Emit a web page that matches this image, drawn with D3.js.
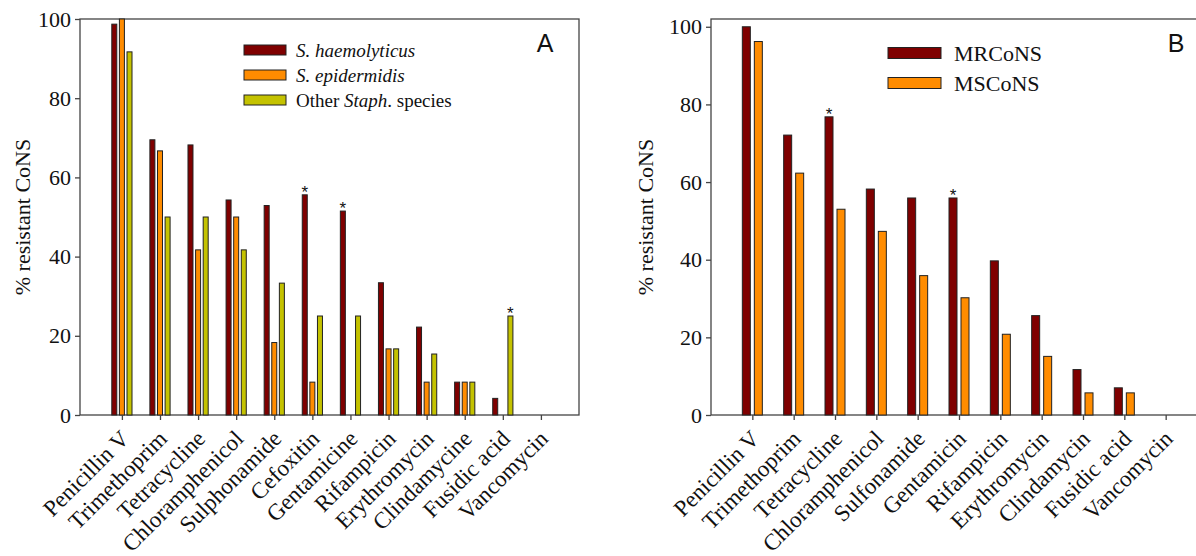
<!DOCTYPE html>
<html>
<head>
<meta charset="utf-8">
<script src="https://cdn.jsdelivr.net/npm/d3@7"></script>
<style>
  body { margin: 0; background: #fff; }
  svg { display: block; }
  svg text { font-family: "Liberation Serif", "Times New Roman", serif; fill: #111; }
</style>
</head>
<body>
<div id="chart"></div>
<script>
// panel A: species
const drugsA = ["Penicillin V", "Trimethoprim", "Tetracycline", "Chloramphenicol", "Sulphonamide",
  "Cefoxitin", "Gentamicine", "Rifampicin", "Erythromycin", "Clindamycine", "Fusidic acid", "Vancomycin"]
const haemolyticus = [98.7, 69.5, 68.2, 54.3, 52.9, 55.6, 51.5, 33.4, 22.2, 8.3, 4.2, 0]
const epidermidis = [100, 66.7, 41.7, 50, 18.3, 8.3, 0, 16.7, 8.3, 8.3, 0, 0]
const otherStaph = [91.7, 50, 50, 41.7, 33.3, 25, 25, 16.7, 15.4, 8.3, 25, 0]
const starsA = [[0, 5], [0, 6], [2, 10]]  // [series, category]

// panel B: methicillin resistance
const drugsB = ["Penicillin V", "Trimethoprim", "Tetracycline", "Chloramphenicol", "Sulfonamide",
  "Gentamicin", "Rifampicin", "Erythromycin", "Clindamycin", "Fusidic acid", "Vancomycin"]
const mrcons = [100, 72.1, 76.8, 58.2, 55.9, 55.9, 39.7, 25.6, 11.7, 7.0, 0]
const mscons = [96.2, 62.3, 53.0, 47.3, 35.9, 30.2, 20.8, 15.1, 5.7, 5.7, 0]
const starsB = [[0, 2], [0, 5]]

const yTicks = [0, 20, 40, 60, 80, 100]
const colors = ["#7f0000", "#ff8c00", "#c4c200"]

const serif = "'Liberation Serif', 'Times New Roman', serif"
const sans = "'Liberation Sans', Arial, sans-serif"
const width = 1196, height = 556

const svg = d3.select("#chart").append("svg")
  .attr("width", width)
  .attr("height", height)
  .attr("font-family", serif)

function drawPanel(opts) {
  const { cats, series, names, stars, left, right, top, bottom, xDomain, yMax, barW, barStep,
    letter, letterX, legend, yLabelX } = opts

  const x = d3.scaleLinear().domain(xDomain).range([left, right])
  const y = d3.scaleLinear().domain([0, yMax]).range([bottom, top])

  const g = svg.append("g")

  // frame
  g.append("rect")
    .attr("x", left).attr("y", top)
    .attr("width", right - left).attr("height", bottom - top)
    .attr("fill", "none")
    .attr("stroke", "#444")
    .attr("stroke-width", 1.3)

  // bars
  const n = series.length
  series.forEach((vals, s) => {
    const off = (s - (n - 1) / 2) * barStep
    g.selectAll(null)
      .data(vals.map((v, i) => ({ v, i })).filter(d => d.v > 0))
      .enter()
      .append("rect")
        .attr("x", d => x(d.i) + off - barW / 2)
        .attr("y", d => y(d.v))
        .attr("width", barW)
        .attr("height", d => y(0) - y(d.v))
        .attr("fill", colors[s])
        .attr("stroke", "#222")
        .attr("stroke-width", 1)
  })

  // significance stars
  g.selectAll(null)
    .data(stars)
    .enter()
    .append("text")
      .attr("x", d => x(d[1]) + (d[0] - (n - 1) / 2) * barStep)
      .attr("y", d => y(series[d[0]][d[1]]) + 3)
      .attr("text-anchor", "middle")
      .style("font-family", sans)
      .style("font-size", "17px")
      .text("*")

  // y axis
  const yAxis = g.append("g")
    .attr("transform", `translate(${left},0)`)
    .call(d3.axisLeft(y).tickValues(yTicks).tickSize(5).tickPadding(4))
  yAxis.attr("font-family", serif).attr("font-size", 22)
  yAxis.select(".domain").remove()
  yAxis.selectAll("line").attr("stroke", "#444").attr("stroke-width", 1.3)
  yAxis.selectAll("text")
    .style("font-family", serif)
    .style("font-size", "22px")
    .attr("fill", "#111")

  // x axis
  const xAxis = g.append("g")
    .attr("transform", `translate(0,${bottom})`)
    .call(d3.axisBottom(x).tickValues(d3.range(cats.length)).tickFormat(i => cats[i]).tickSize(5))
  xAxis.attr("font-family", serif).attr("font-size", 23)
  xAxis.select(".domain").remove()
  xAxis.selectAll("line").attr("stroke", "#444").attr("stroke-width", 1.3)
  xAxis.selectAll("text")
    .attr("x", 0).attr("y", 0).attr("dy", 0)
    .attr("transform", "translate(8,25) rotate(-45)")
    .attr("text-anchor", "end")
    .style("font-family", serif)
    .style("font-size", "23px")
    .attr("fill", "#111")

  // y label
  g.append("text")
    .attr("transform", `translate(${yLabelX},${(top + bottom) / 2}) rotate(-90)`)
    .attr("text-anchor", "middle")
    .style("font-family", serif)
    .style("font-size", "22px")
    .text("% resistant CoNS")

  // panel letter
  g.append("text")
    .attr("x", letterX).attr("y", 52)
    .attr("text-anchor", "middle")
    .style("font-family", sans)
    .style("font-size", "25px")
    .text(letter)

  // legend
  names.forEach((nm, s) => {
    const ly = legend.y + s * legend.step
    g.append("rect")
      .attr("x", legend.x).attr("y", ly - legend.h / 2)
      .attr("width", legend.w).attr("height", legend.h)
      .attr("fill", colors[s])
      .attr("stroke", "#222")
      .attr("stroke-width", 1)
    const t = g.append("text")
      .attr("x", legend.x + legend.w + legend.gap)
      .attr("y", ly)
      .attr("dy", "0.35em")
      .style("font-family", serif)
      .style("font-size", legend.font + "px")
    nm.forEach(part => {
      t.append("tspan")
        .style("font-style", part[1] ? "italic" : "normal")
        .text(part[0])
    })
  })
}

drawPanel({
  cats: drugsA,
  series: [haemolyticus, epidermidis, otherStaph],
  names: [[["S. haemolyticus", true]], [["S. epidermidis", true]],
    [["Other ", false], ["Staph", true], [". species", false]]],
  stars: starsA,
  left: 80, right: 579, top: 19, bottom: 415,
  xDomain: [-1.1, 12], yMax: 100,
  barW: 5, barStep: 7.6,
  letter: "A", letterX: 545,
  legend: { x: 244, y: 50, step: 25, w: 42, h: 10, gap: 10, font: 19 },
  yLabelX: 30
})

drawPanel({
  cats: drugsB,
  series: [mrcons, mscons],
  names: [[["MRCoNS", false]], [["MSCoNS", false]]],
  stars: starsB,
  left: 711, right: 1207, top: 19, bottom: 415,
  xDomain: [-1, 11], yMax: 102,
  barW: 8, barStep: 12,
  letter: "B", letterX: 1176,
  legend: { x: 888, y: 53, step: 30, w: 53, h: 11, gap: 13, font: 22 },
  yLabelX: 653
})
</script>
</body>
</html>
